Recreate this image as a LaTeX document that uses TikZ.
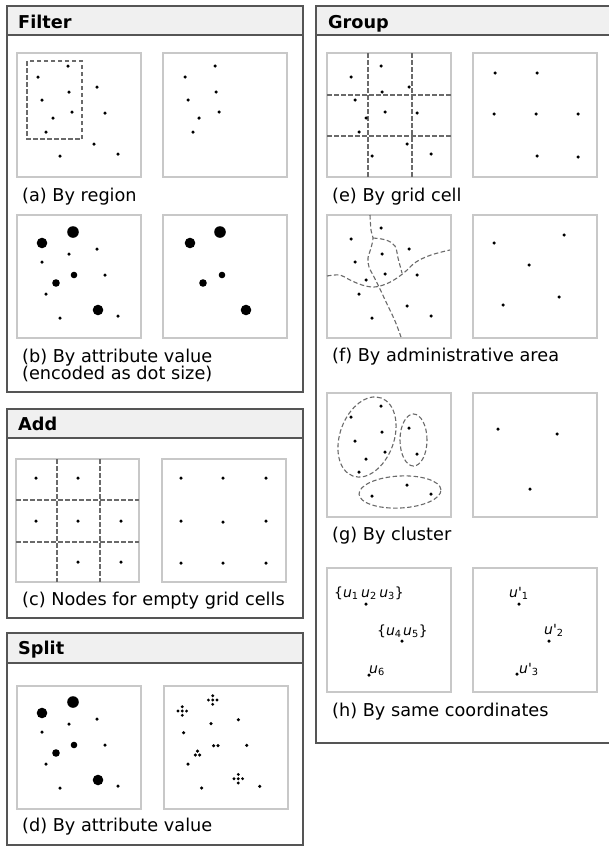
\documentclass[tikz,border=0pt]{standalone}
\usepackage{fontspec}
\setmainfont{DejaVu Sans}
\usetikzlibrary{shapes.geometric}
\definecolor{frame}{HTML}{555555}
\definecolor{headbg}{HTML}{F0F0F0}
\definecolor{boxgray}{HTML}{C8C8C8}
\definecolor{dashgray}{HTML}{6A6A6A}
\newcommand\mydot[1]{\fill (#1) circle[radius=1.75pt];}
\newcommand\bigdot[2]{\fill (#1) circle[radius=#2pt];}
\newcommand\flowerdots[1]{\begin{scope}[shift={(#1)}]\fill (0,0) circle[radius=1.6pt] (4.3,0) circle[radius=1.6pt] (-4.3,0) circle[radius=1.6pt] (0,4.3) circle[radius=1.6pt] (0,-4.3) circle[radius=1.6pt];\end{scope}}
\begin{document}
\begin{tikzpicture}[x=1pt,y=-1pt,
  panel/.style={draw=frame,line width=2pt},
  ibox/.style={draw=boxgray,line width=1.2pt},
  dsh/.style={draw=dashgray,line width=1.1pt,dash pattern=on 4.5pt off 2.5pt},
  captxt/.style={anchor=base west,inner sep=0pt,font=\fontsize{17.7}{20}\selectfont},
  ttl/.style={anchor=base west,inner sep=0pt,font=\fontsize{17.7}{20}\selectfont\bfseries},
  lab/.style={anchor=base west,inner sep=0pt,font=\fontsize{14}{16}\selectfont},
  ell/.style={ellipse,dsh,inner sep=0pt},
]
\useasboundingbox (0,0) rectangle (609,846);
\fill[white] (0,0) rectangle (609,846);

% ---------------- Filter ----------------
\fill[headbg] (7,6) rectangle (303,35);
\draw[panel] (7,6) rectangle (303,392);
\draw[panel] (7,35) -- (303,35);
\node[ttl] (tfilter) at (18,28) {Filter};
% (a)
\draw[ibox] (17,53) rectangle (141,177);
\draw[ibox] (163,53) rectangle (287,177);
\draw[dsh] (27,61) rectangle (82,139);
\foreach \p in {(68,66),(38,77),(69,92),(97,87),(42,100),(72,112),(105,113),(53,118),(46,132),(94,144),(118,154),(60,156),
  (215,66),(185,77),(216,92),(188,100),(219,112),(199,118),(193,132)}
  {\fill \p circle[radius=1.75pt];}
\node[captxt] (ca) at (22,201) {(a) By region};
% (b)
\draw[ibox] (17,215) rectangle (141,338);
\draw[ibox] (163,215) rectangle (287,338);
\bigdot{42,243}{5.3}\bigdot{73,232}{5.8}\mydot{69,254}\mydot{97,249}\mydot{42,262}
\bigdot{74,275}{3.3}\mydot{105,275}\bigdot{56,283}{3.8}\mydot{46,294}\bigdot{98,310}{5.3}
\mydot{60,318}\mydot{118,316}
\bigdot{190,243}{5.3}\bigdot{220,232}{5.8}\bigdot{222,275}{3.3}\bigdot{203,283}{3.8}\bigdot{246,310}{5.3}
\node[captxt] (cb1) at (22,362.5) {(b) By attribute value};
\node[captxt] (cb2) at (22,379) {(encoded as dot size)};

% ---------------- Add ----------------
\fill[headbg] (7,409) rectangle (303,438);
\draw[panel] (7,409) rectangle (303,618);
\draw[panel] (7,438) -- (303,438);
\node[ttl] (tadd) at (18,430) {Add};
\draw[ibox] (16,459) rectangle (139,582);
\draw[ibox] (162,459) rectangle (286,582);
\draw[dsh] (57,459) -- (57,582) (100,459) -- (100,582) (16,500) -- (139,500) (16,542) -- (139,542);
\foreach \p in {(36,478),(78,478),(36,521),(78,521),(121,521),(78,562),(121,562),
  (181,478),(223,478),(266,478),(181,521),(223,522),(266,521),(181,563),(223,563),(266,563)}
  {\fill \p circle[radius=1.75pt];}
\node[captxt] (cc) at (22,605) {(c) Nodes for empty grid cells};

% ---------------- Split ----------------
\fill[headbg] (7,633) rectangle (303,663);
\draw[panel] (7,633) rectangle (303,844.5);
\draw[panel] (7,663) -- (303,663);
\node[ttl] (tsplit) at (18,654) {Split};
\draw[ibox] (17,686) rectangle (141,809);
\draw[ibox] (164,686) rectangle (288,809);
\bigdot{42,713}{5.3}\bigdot{73,702}{5.8}\mydot{69,724}\mydot{97,719}\mydot{42,732}
\bigdot{74,745}{3.3}\mydot{105,745}\bigdot{56,753}{3.8}\mydot{46,764}\bigdot{98,780}{5.3}
\mydot{60,788}\mydot{118,786}
\flowerdots{182.3,711}\flowerdots{212.7,700}\flowerdots{238.3,778.7}
\mydot{211,723.7}\mydot{238.3,719.7}\mydot{183.7,732.7}\mydot{246.7,745.3}
\mydot{188,764}\mydot{201.7,788}\mydot{259.7,786.3}
\mydot{213.7,745.7}\mydot{218,745.7}
\mydot{197.5,751}\mydot{195.3,755}\mydot{199.7,755}
\node[captxt] (cd) at (22,831) {(d) By attribute value};

% ---------------- Group ----------------
\fill[headbg] (316,6) rectangle (609,35);
\draw[panel] (611,6) -- (316,6) -- (316,743) -- (611,743);
\draw[panel] (316,35) -- (611,35);
\node[ttl] (tgroup) at (328,28) {Group};
% (e)
\draw[ibox] (327,53) rectangle (451,177);
\draw[ibox] (473,53) rectangle (597,177);
\draw[dsh] (368,53) -- (368,177) (412,53) -- (412,177) (327,95) -- (451,95) (327,136) -- (451,136);
\foreach \p in {(381,66),(351,77),(382,92),(409,87),(355,100),(385,112),(417,113),(366,118),(359,132),(407,144),(431,154),(372,156),
  (495,73),(537,73),(494,114),(536,114),(578,114),(537,156),(578,157)}
  {\fill \p circle[radius=1.75pt];}
\node[captxt] (ce) at (332,201) {(e) By grid cell};
% (f)
\draw[ibox] (327,215) rectangle (451,338);
\draw[ibox] (473,215) rectangle (597,338);
\draw[dsh] plot[smooth,tension=0.6] coordinates {(370,215) (371,230) (373,238) (371,248) (368,258) (369,267) (373,275) (379,287) (387,304) (395,321) (401,337)};
\draw[dsh] plot[smooth,tension=0.6] coordinates {(373,238) (386,240) (395,246) (398,258) (402,273)};
\draw[dsh] plot[smooth,tension=0.6] coordinates {(327,276) (340,275) (350,280) (362,285) (374,287) (386,284) (397,278) (406,271) (416,262) (431,255) (450,250)};
\foreach \p in {(381,228),(351,239),(409,249),(382,254),(355,262),(385,274),(417,275),(366,280),(359,294),(407,306),(372,318),(431,316),
  (494,243),(564,235),(529,265),(559,297),(503,305)}
  {\fill \p circle[radius=1.75pt];}
\node[captxt] (cf) at (332,361) {(f) By administrative area};
% (g)
\draw[ibox] (327,393) rectangle (451,517);
\draw[ibox] (473,393) rectangle (597,517);
\node[ell,minimum width=83pt,minimum height=54pt,rotate=70] (e1) at (367,437) {};
\node[ell,minimum width=27pt,minimum height=52pt] (e2) at (413.5,440) {};
\node[ell,minimum width=82pt,minimum height=32pt,rotate=3] (e3) at (400,492) {};
\foreach \p in {(381,406),(351,417),(409,428),(382,432),(355,441),(385,452),(417,454),(366,459),(359,472),(407,485),(372,496),(431,494),
  (498,429),(557,434),(530,489)}
  {\fill \p circle[radius=1.75pt];}
\node[captxt] (cg) at (332,540) {(g) By cluster};
% (h)
\draw[ibox] (327,568) rectangle (451,692);
\draw[ibox] (473,568) rectangle (597,692);
\mydot{366,604}\mydot{402,641}\mydot{369,675}
\mydot{519,604}\mydot{549,641}\mydot{517,674}
\node[lab] (h1) at (334,597) {\{\textit{u}\textsubscript{1}\hspace{2.5pt}\textit{u}\textsubscript{2}\hspace{2.5pt}\textit{u}\textsubscript{3}\}};
\node[lab] (h2) at (377,635) {\{\textit{u}\textsubscript{4}\hspace{1.5pt}\textit{u}\textsubscript{5}\}};
\node[lab] (h3) at (369,673) {\textit{u}\textsubscript{6}};
\node[lab] (h4) at (509,597) {\textit{u}\textquotesingle\textsubscript{1}};
\node[lab] (h5) at (544,634) {\textit{u}\textquotesingle\textsubscript{2}};
\node[lab] (h6) at (519,673) {\textit{u}\textquotesingle\textsubscript{3}};
\node[captxt] (ch) at (332,716) {(h) By same coordinates};
\end{tikzpicture}
\end{document}
